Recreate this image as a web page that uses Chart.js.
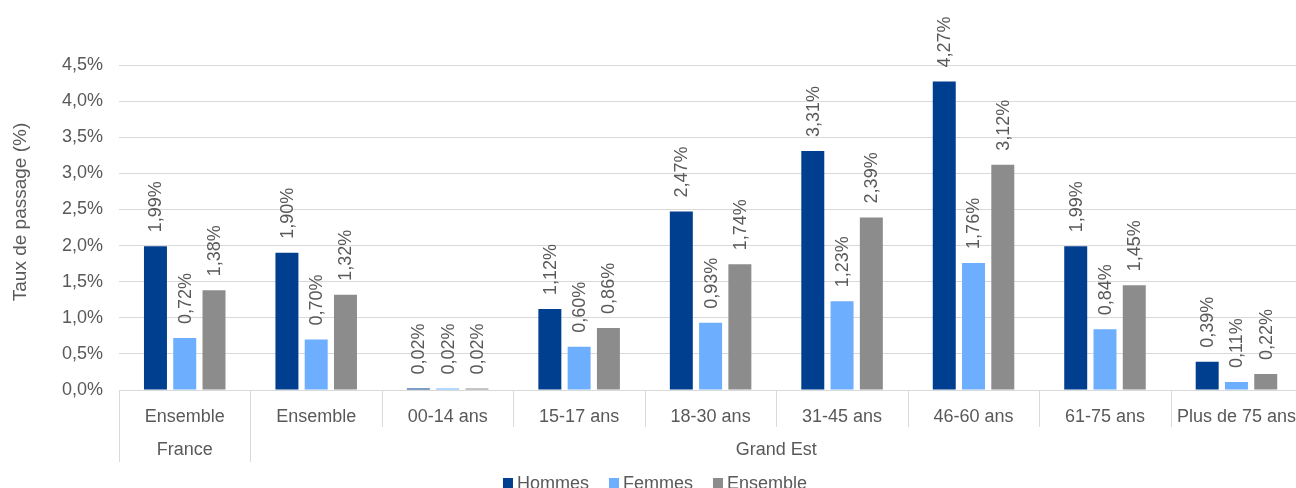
<!DOCTYPE html>
<html>
<head>
<meta charset="utf-8">
<script src="https://cdn.jsdelivr.net/npm/chart.js@4.4.0/dist/chart.umd.min.js"></script>
<style>
  html, body { margin: 0; padding: 0; background: #fff; overflow: hidden; }
  #c { display: block; }
</style>
</head>
<body>
<canvas id="c" width="1304" height="488" style="width:1304px;height:488px"></canvas>
<script>
const categories = ["Ensemble", "Ensemble", "00-14 ans", "15-17 ans", "18-30 ans", "31-45 ans", "46-60 ans", "61-75 ans", "Plus de 75 ans"];
const groups = [
  { label: "France", from: 0, to: 0 },
  { label: "Grand Est", from: 1, to: 8 }
];
const hommes   = [1.99, 1.90, 0.02, 1.12, 2.47, 3.31, 4.27, 1.99, 0.39];
const femmes   = [0.72, 0.70, 0.02, 0.60, 0.93, 1.23, 1.76, 0.84, 0.11];
const ensemble = [1.38, 1.32, 0.02, 0.86, 1.74, 2.39, 3.12, 1.45, 0.22];
const seriesNames = ["Hommes", "Femmes", "Ensemble"];
const seriesColors = ["#003f8f", "#6daeff", "#8c8c8c"];
const yTicks = [0, 0.5, 1, 1.5, 2, 2.5, 3, 3.5, 4, 4.5];
const yTitle = "Taux de passage (%)";

const FONT = "'Liberation Sans', Arial, sans-serif";
const TXT = "#595959";
const GRID = "#d9d9d9";

const fmt = (v, d) => v.toFixed(d).replace('.', ',') + '%';

const customDraw = {
  id: 'customDraw',
  afterDatasetsDraw(chart) {
    const ctx = chart.ctx;
    ctx.save();
    ctx.fillStyle = TXT;
    ctx.font = "18px " + FONT;
    chart.data.datasets.forEach((ds, di) => {
      const meta = chart.getDatasetMeta(di);
      meta.data.forEach((bar, i) => {
        ctx.save();
        ctx.translate(bar.x, bar.y - 14);
        ctx.rotate(-Math.PI / 2);
        ctx.textAlign = 'left';
        ctx.textBaseline = 'middle';
        ctx.fillText(fmt(ds.data[i], 2), 0, 1);
        ctx.restore();
      });
    });
    ctx.restore();
  },
  afterDraw(chart) {
    const ctx = chart.ctx;
    const xs = chart.scales.x;
    const area = chart.chartArea;
    const n = categories.length;
    const cw = (xs.right - xs.left) / n;
    ctx.save();
    ctx.strokeStyle = GRID;
    ctx.lineWidth = 1;
    const groupStarts = groups.map(g => g.from);
    for (let i = 0; i <= n; i++) {
      const x = Math.round(xs.getPixelForValue(Math.min(i, n - 1)) + (i === n ? cw / 2 : -cw / 2)) + 0.5;
      const long = groupStarts.includes(i);
      ctx.beginPath();
      ctx.moveTo(x, area.bottom);
      ctx.lineTo(x, long ? 462 : 427);
      ctx.stroke();
    }
    ctx.fillStyle = TXT;
    ctx.font = "18px " + FONT;
    ctx.textAlign = 'center';
    ctx.textBaseline = 'middle';
    groups.forEach(g => {
      const cx = (xs.getPixelForValue(g.from) + xs.getPixelForValue(g.to)) / 2;
      ctx.fillText(g.label, cx, 450);
    });
    ctx.save();
    ctx.translate(21, 212);
    ctx.rotate(-Math.PI / 2);
    ctx.font = "19px " + FONT;
    ctx.fillText(yTitle, 0, 0);
    ctx.restore();
    const box = 10, gapBox = 4, gapItem = 20;
    const widths = seriesNames.map(s => box + gapBox + ctx.measureText(s).width);
    const total = widths.reduce((a, b) => a + b, 0) + gapItem * (widths.length - 1);
    let lx = 655 - total / 2;
    const ly = 484;
    ctx.textAlign = 'left';
    seriesNames.forEach((s, i) => {
      ctx.fillStyle = seriesColors[i];
      ctx.fillRect(lx, ly - 6, box, box + 1);
      ctx.fillStyle = TXT;
      ctx.fillText(s, lx + box + gapBox, ly);
      lx += widths[i] + gapItem;
    });
    ctx.restore();
  }
};

new Chart(document.getElementById('c'), {
  type: 'bar',
  data: {
    labels: categories,
    datasets: [
      { label: seriesNames[0], data: hommes, backgroundColor: seriesColors[0] },
      { label: seriesNames[1], data: femmes, backgroundColor: seriesColors[1] },
      { label: seriesNames[2], data: ensemble, backgroundColor: seriesColors[2] }
    ]
  },
  options: {
    responsive: false,
    maintainAspectRatio: false,
    devicePixelRatio: 1,
    animation: false,
    layout: { padding: { top: 65, left: 0, right: 0, bottom: 0 } },
    datasets: { bar: { categoryPercentage: 0.668, barPercentage: 0.785 } },
    plugins: { legend: { display: false }, tooltip: { enabled: false } },
    scales: {
      x: {
        grid: { display: false },
        border: { display: false },
        ticks: { color: TXT, font: { family: FONT, size: 18 }, padding: 8, maxRotation: 0, autoSkip: false },
        afterFit(s) { s.height = 98; }
      },
      y: {
        min: 0, max: 4.5,
        afterBuildTicks(s) { s.ticks = yTicks.map(v => ({ value: v })); },
        grid: { color: GRID, lineWidth: 1, drawTicks: false },
        border: { display: false },
        ticks: { color: TXT, font: { family: FONT, size: 18 }, padding: 16, callback: v => fmt(v, 1) },
        afterFit(s) { s.width = 119; }
      }
    }
  },
  plugins: [customDraw]
});
</script>
</body>
</html>
